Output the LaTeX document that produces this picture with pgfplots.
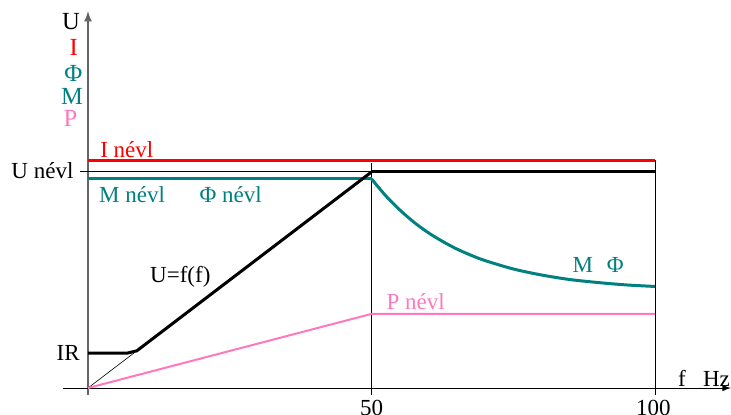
\documentclass[border=0pt]{standalone}
\usepackage{pgfplots}
\pgfplotsset{compat=1.18}
\usepackage{fontspec}
\setmainfont{Liberation Serif}
\definecolor{cRed}{RGB}{255,0,0}
\definecolor{cTeal}{RGB}{0,128,128}
\definecolor{cPink}{RGB}{255,120,190}
\definecolor{cAxis}{RGB}{100,100,100}
\tikzset{
  lbl/.style={font=\fontsize{11.5}{13}\selectfont, inner sep=0pt},
  big/.style={font=\fontsize{12.3}{14}\selectfont, inner sep=0pt},
}

\begin{document}
\begin{tikzpicture}
\begin{axis}[
  width=365.5pt, height=207pt, scale only axis,
  xmin=-15.52, xmax=113.4, ymin=-12.04, ymax=179.6,
  hide axis, clip=false,
]
% axes
\addplot[cAxis, line width=0.8pt, -latex] coordinates {(0,-3.2) (0,174.5)};
\addplot[black, line width=0.5pt, -latex] coordinates {(-4.4,0) (113.4,0)};
% guide lines at 50 Hz and 100 Hz
\addplot[black, line width=0.4pt] coordinates {(50,-3.2) (50,104.2)};
\addplot[black, line width=0.4pt] coordinates {(100,-3.2) (100,105.6)};
% rated voltage mark
\addplot[black, line width=0.4pt] coordinates {(-1.4,100.4) (50,100.4)};
% rated current
\addplot[cRed, line width=1.5pt] coordinates {(0,105.2) (100,105.2)};
% torque / flux
\addplot[cTeal, line width=1.5pt] coordinates {(0,96.8) (50,96.8)};
\addplot[cTeal, line width=1.5pt, smooth] coordinates {
  (50,96.8) (52.5,89.0) (55,82.4) (57.5,76.7) (60,71.9) (62.5,67.9)
  (65,64.4) (67.5,61.5) (70,59.0) (75,55.1) (80,52.3) (85,50.2)
  (90,48.8) (95,47.7) (100,47.0)};
% voltage U=f(f)
\addplot[black, line width=1.5pt] coordinates {(0,16.2) (7.0,16.2) (8.6,17.2) (50,100)};
\addplot[black, line width=1.5pt] coordinates {(50,100) (100,100)};
\addplot[black, line width=0.3pt] coordinates {(0,0) (8.1,16.2)};
% power
\addplot[cPink, line width=1pt] coordinates {(0,0) (50,34.3) (100,34.3)};

% labels
\node[big] at (axis cs:-3.0,169.6) {U};
\node[big, text=cRed] at (axis cs:-2.5,157.6) {I};
\node[big, text=cTeal] at (axis cs:-2.6,145.6) {Φ};
\node[big, text=cTeal] at (axis cs:-2.8,134.9) {M};
\node[big, text=cPink] at (axis cs:-3.1,124.6) {P};
\node[lbl, anchor=east] at (axis cs:-2.5,100.5) {U névl};
\node[lbl, anchor=east] at (axis cs:-1.4,16.2) {IR};
\node[lbl, anchor=west, text=cRed] at (axis cs:2.1,110.2) {I névl};
\node[lbl, anchor=west, text=cTeal] at (axis cs:1.9,89.4) {M névl};
\node[lbl, anchor=west, text=cTeal] at (axis cs:19.6,89.4) {Φ névl};
\node[lbl, anchor=west] at (axis cs:10.9,51.4) {U=f(f)};
\node[lbl, anchor=west, text=cPink] at (axis cs:52.6,39.8) {P névl};
\node[lbl, anchor=west, text=cTeal] at (axis cs:85.4,56.9) {M\hspace{0.6em}Φ};
\node[lbl, anchor=west] at (axis cs:104.0,4.6) {f\hspace{0.75em}Hz};
\node[lbl] at (axis cs:50,-9.2) {50};
\node[lbl] at (axis cs:99.7,-9.2) {100};
\end{axis}
\pgfresetboundingbox
\path[use as bounding box] (current axis.south west) rectangle (current axis.north east);
\end{tikzpicture}
\end{document}
